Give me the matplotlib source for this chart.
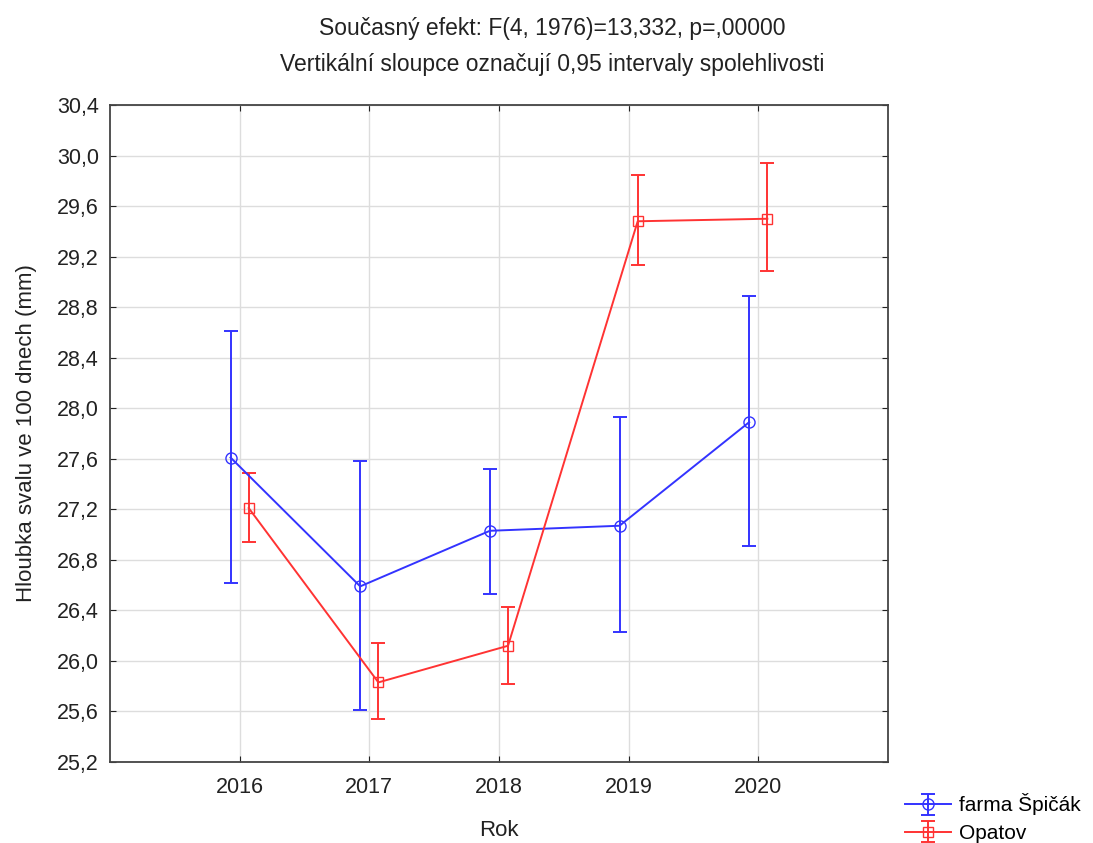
import numpy as np
import matplotlib
matplotlib.use("Agg")
import matplotlib.pyplot as plt

plt.rcParams['font.family'] = ['Liberation Sans', 'DejaVu Sans']

years = ["2016", "2017", "2018", "2019", "2020"]
spicak_mean = [27.61, 26.59, 27.03, 27.07, 27.89]
spicak_low = [26.62, 25.61, 26.53, 26.23, 26.91]
spicak_high = [28.61, 27.58, 27.52, 27.93, 28.89]
opatov_mean = [27.21, 25.83, 26.12, 29.48, 29.50]
opatov_low = [26.94, 25.54, 25.82, 29.13, 29.09]
opatov_high = [27.49, 26.14, 26.43, 29.85, 29.94]

fig = plt.figure(figsize=(10.93, 8.43), dpi=100)
ax = fig.add_axes([0.1006, 0.0961, 0.7118, 0.7793])

x = np.arange(len(years))
series = [
    ("farma Špičák", spicak_mean, spicak_low, spicak_high, "#3333ff", "o", 8, -0.07),
    ("Opatov", opatov_mean, opatov_low, opatov_high, "#ff3333", "s", 7.5, 0.07),
]
for name, m, lo, hi, col, mk, ms, off in series:
    m = np.array(m); lo = np.array(lo); hi = np.array(hi)
    ax.errorbar(x + off, m, yerr=[m - lo, hi - m], color=col, marker=mk,
                markerfacecolor="none", markeredgecolor=col, markersize=ms,
                lw=1.4, elinewidth=1.4, capsize=5, capthick=1.4, label=name)

ax.set_xlim(-1, 5)
ax.set_ylim(25.2, 30.4)
ax.set_xticks(x)
ax.set_xticklabels(years)
yt = np.arange(25.2, 30.41, 0.4)
ax.set_yticks(yt)
ax.set_yticklabels([f"{v:.1f}".replace(".", ",") for v in yt])
ax.grid(True, color="#dddddd", lw=1)
ax.set_axisbelow(True)
ax.tick_params(direction="in", length=4, labelsize=15.5, colors="#222222",
               top=True, right=True, pad=11)
ax.tick_params(axis="y", pad=8)
for s in ax.spines.values():
    s.set_color("#444444")
    s.set_linewidth(1.3)

ax.set_xlabel("Rok", fontsize=16, color="#222222", labelpad=16)
ax.set_ylabel("Hloubka svalu ve 100 dnech (mm)", fontsize=16, color="#222222", labelpad=14)

fig.text(0.5055, 0.966, "Současný efekt: F(4, 1976)=13,332, p=,00000",
         ha="center", va="center", fontsize=16.5, color="#222222")
fig.text(0.5055, 0.924, "Vertikální sloupce označují 0,95 intervaly spolehlivosti",
         ha="center", va="center", fontsize=16.5, color="#222222")

fig.legend(loc="lower left", bbox_to_anchor=(0.811, -0.022), frameon=False,
           fontsize=15, handlelength=2.2, labelspacing=0.4, handletextpad=0.4)

fig.savefig("out.png", dpi=100)
